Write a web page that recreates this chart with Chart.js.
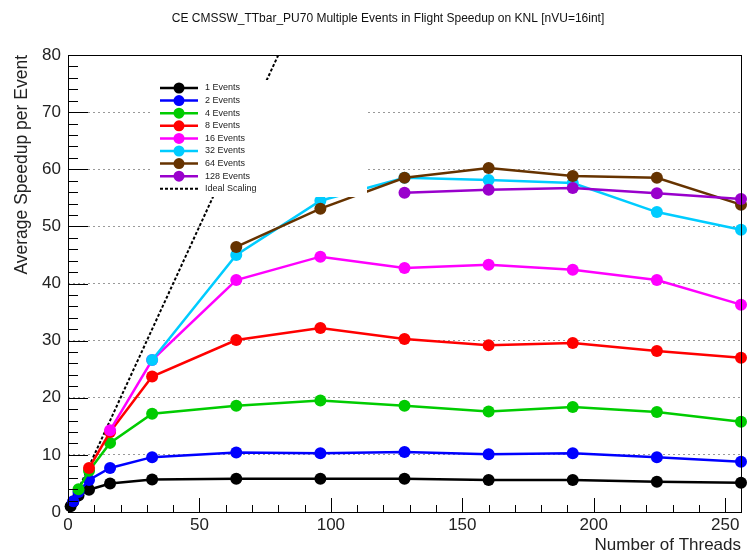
<!DOCTYPE html>
<html>
<head>
<meta charset="utf-8">
<script src="https://cdn.jsdelivr.net/npm/chart.js@4.4.0/dist/chart.umd.min.js"></script>
<style>
html, body { margin: 0; padding: 0; background: #fff; }
#wrap { width: 747px; height: 554px; }
</style>
</head>
<body>
<div id="wrap"><canvas id="speedup"></canvas></div>
<script>
// thread counts on x axis
var threads = [1, 2, 4, 8, 16, 32, 64, 96, 128, 160, 192, 224, 256];

// speedup per series, each starts at thread count = number of events
var ev1   = [1.0, 1.8, 2.9, 3.9, 5.0, 5.7, 5.8, 5.8, 5.8, 5.6, 5.6, 5.3, 5.1];
var ev2   = [1.9, 3.5, 5.6, 7.7, 9.6, 10.4, 10.3, 10.5, 10.1, 10.3, 9.6, 8.8];
var ev4   = [4.0, 7.2, 12.1, 17.2, 18.6, 19.5, 18.6, 17.6, 18.4, 17.5, 15.8];
var ev8   = [7.7, 14.0, 23.7, 30.1, 32.2, 30.3, 29.2, 29.6, 28.2, 27.0];
var ev16  = [14.3, 26.6, 40.6, 44.7, 42.7, 43.3, 42.4, 40.6, 36.3];
var ev32  = [26.6, 45.0, 54.5, 58.5, 58.1, 57.6, 52.5, 49.4];
var ev64  = [46.4, 53.1, 58.5, 60.2, 58.8, 58.5, 53.8];
var ev128 = [55.9, 56.4, 56.7, 55.8, 54.8];

var idealThreads = [0, 1, 2, 4, 8, 16, 32, 64, 96];
var idealSpeedup = [0, 1, 2, 4, 8, 16, 32, 64, 96];

var seriesNames = ["1 Events", "2 Events", "4 Events", "8 Events", "16 Events", "32 Events", "64 Events", "128 Events"];
var seriesFirst = [1, 2, 4, 8, 16, 32, 64, 128];
var seriesValues = [ev1, ev2, ev4, ev8, ev16, ev32, ev64, ev128];
var seriesColors = ["#000000", "#0000ff", "#00cc00", "#ff0000", "#ff00ff", "#00ccff", "#663300", "#9900cc"];

var yTicks = [0, 10, 20, 30, 40, 50, 60, 70, 80];
var xTicks = [0, 50, 100, 150, 200, 250];

var FONT = "'Liberation Sans', Arial, sans-serif";

var datasets = [];
seriesNames.forEach(function (name, i) {
  var xs = threads.filter(function (t) { return t >= seriesFirst[i]; });
  datasets.push({
    label: name,
    data: xs.map(function (t, k) { return {x: t, y: seriesValues[i][k]}; }),
    borderColor: seriesColors[i],
    backgroundColor: seriesColors[i],
    borderWidth: 2.5,
    pointRadius: 6,
    pointBorderWidth: 0,
    pointHoverRadius: 6,
    tension: 0,
    clip: false,
    order: 20 - i
  });
});
datasets.push({
  label: "Ideal Scaling",
  data: idealThreads.map(function (t, k) { return {x: t, y: idealSpeedup[k]}; }),
  borderColor: "#000000",
  borderWidth: 2,
  borderDash: [3, 2],
  pointRadius: 0,
  tension: 0,
  order: 30
});

// frame, inward tick marks, title and the boxed legend (ROOT style)
var rootStyle = {
  id: "rootStyle",
  afterDatasetsDraw: function (chart) {
    var ctx = chart.ctx, a = chart.chartArea;
    var xs = chart.scales.x, ys = chart.scales.y;
    ctx.save();
    ctx.strokeStyle = "#000";
    ctx.lineWidth = 1;
    ctx.beginPath();
    for (var v = 0; v <= 80; v += 2) {
      var py = Math.round(ys.getPixelForValue(v)) + 0.5;
      var len = v % 10 === 0 ? 20 : 10;
      ctx.moveTo(a.left, py);
      ctx.lineTo(a.left + len, py);
    }
    for (var t = 0; t <= 256; t += 10) {
      var px = Math.round(xs.getPixelForValue(t)) + 0.5;
      var l2 = t % 50 === 0 ? 14 : 7;
      ctx.moveTo(px, a.bottom);
      ctx.lineTo(px, a.bottom - l2);
    }
    ctx.stroke();
    ctx.strokeRect(Math.round(a.left) + 0.5, Math.round(a.top) + 0.5,
                   Math.round(a.right - a.left), Math.round(a.bottom - a.top));

    // legend box
    ctx.fillStyle = "#fff";
    ctx.fillRect(153, 80, 214, 117);
    var ds = chart.data.datasets;
    ctx.font = "9px " + FONT;
    ctx.textBaseline = "middle";
    ds.forEach(function (d, row) {
      var y = 88 + row * 12.6;
      ctx.strokeStyle = d.borderColor;
      ctx.lineWidth = d.borderWidth;
      ctx.setLineDash(d.borderDash || []);
      ctx.beginPath();
      ctx.moveTo(160, y);
      ctx.lineTo(198, y);
      ctx.stroke();
      ctx.setLineDash([]);
      if (d.pointRadius) {
        ctx.fillStyle = d.backgroundColor;
        ctx.beginPath();
        ctx.arc(179, y, 5.5, 0, Math.PI * 2);
        ctx.fill();
      }
      ctx.fillStyle = "#222";
      ctx.fillText(d.label, 205, y);
    });

    // main title
    ctx.fillStyle = "#111";
    ctx.font = "12px " + FONT;
    ctx.textAlign = "center";
    ctx.fillText("CE CMSSW_TTbar_PU70 Multiple Events in Flight Speedup on KNL [nVU=16int]", 388, 19);
    ctx.restore();
  }
};

new Chart("speedup", {
  type: "line",
  data: { datasets: datasets },
  plugins: [rootStyle],
  options: {
    responsive: true,
    maintainAspectRatio: false,
    animation: false,
    events: [],
    layout: { padding: { top: 55, right: 3, left: 0, bottom: 0 } },
    plugins: {
      legend: { display: false },
      title: { display: false },
      tooltip: { enabled: false }
    },
    scales: {
      x: {
        type: "linear",
        min: 0,
        max: 256,
        afterFit: function (s) { s.height = 42; },
        afterBuildTicks: function (s) { s.ticks = xTicks.map(function (v) { return {value: v}; }); },
        grid: { display: false, drawTicks: false },
        border: { display: false },
        ticks: { color: "#222", font: { family: FONT, size: 17 }, padding: 3, maxRotation: 0 },
        title: {
          display: true, text: "Number of Threads", align: "end",
          color: "#222", font: { family: FONT, size: 17, lineHeight: 1 }, padding: { top: 0, bottom: 0 }
        }
      },
      y: {
        min: 0,
        max: 80,
        afterFit: function (s) { s.width = 68; },
        afterBuildTicks: function (s) { s.ticks = yTicks.map(function (v) { return {value: v}; }); },
        grid: { color: "#999", lineWidth: 1, drawTicks: false },
        border: { display: false, dash: [2, 3] },
        ticks: { color: "#222", font: { family: FONT, size: 17 }, padding: 7 },
        title: {
          display: true, text: "Average Speedup per Event", align: "end",
          color: "#222", font: { family: FONT, size: 17.5 }, padding: { top: 12, bottom: 0 }
        }
      }
    }
  }
});
</script>
</body>
</html>
